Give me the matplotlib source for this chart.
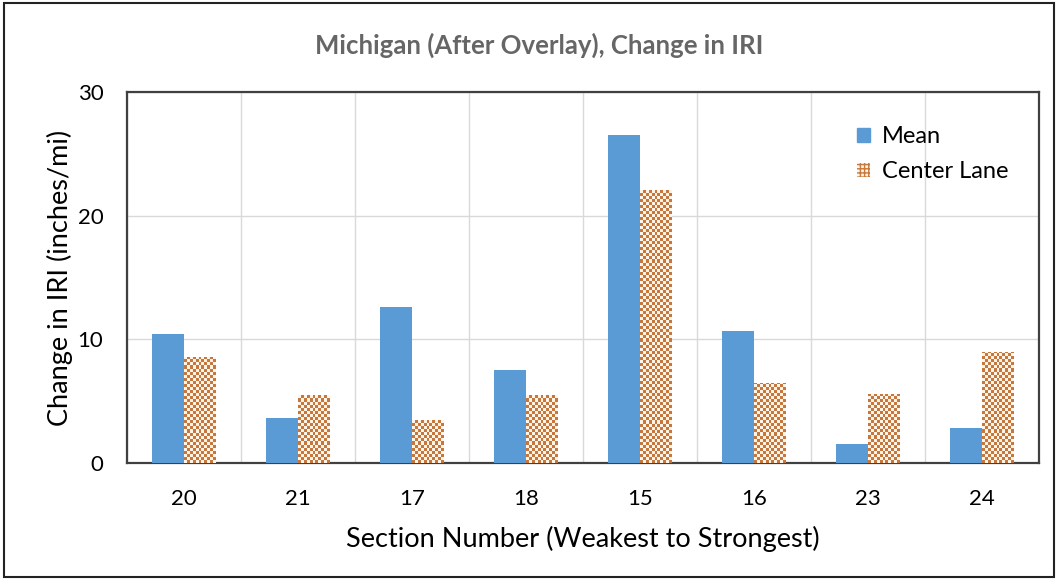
import matplotlib.pyplot as plt
import numpy as np
from matplotlib.patches import Rectangle

sections = ["20", "21", "17", "18", "15", "16", "23", "24"]
mean_iri = [10.4, 3.6, 12.6, 7.5, 26.5, 10.7, 1.5, 2.8]
center_lane = [8.6, 5.5, 3.5, 5.5, 22.1, 6.5, 5.6, 9.0]

plt.rcParams["font.family"] = ["Lato", "DejaVu Sans"]

fig = plt.figure(figsize=(10.58, 5.8), dpi=100)
ax = fig.add_axes([127 / 1058, 117 / 580, 912 / 1058, 371 / 580])

x = np.arange(len(sections))
w = 0.28

ax.bar(x - w / 2, mean_iri, w, color="#5B9BD5", label="Mean", zorder=3)
bars = ax.bar(x + w / 2, center_lane, w, color="#E9B888", label="Center Lane",
              zorder=3)

# checkerboard fill for the center lane bars
cell_x = w / 11
cell_y = 0.245
for b in bars:
    bx, bw, bh = b.get_x(), b.get_width(), b.get_height()
    b.set_facecolor("none")
    nx = int(np.ceil(bw / cell_x))
    ny = int(np.ceil(bh / cell_y)) + 1
    ii, jj = np.indices((ny, nx))
    checker = (ii + jj) % 2
    rgb = np.where(checker[..., None] == 1,
                   np.array([0.78, 0.47, 0.24]),
                   np.array([1.0, 0.96, 0.90]))
    im = ax.imshow(rgb[::-1], extent=(bx, bx + nx * cell_x, 0, ny * cell_y),
                   origin="lower", interpolation="nearest", aspect="auto",
                   zorder=3)
    im.set_clip_path(Rectangle((bx, 0), bw, bh, transform=ax.transData))

ax.set_xlim(-0.5, len(sections) - 0.5)
ax.set_ylim(0, 30)
ax.set_yticks([0, 10, 20, 30])
ax.set_xticks(x)
ax.set_xticklabels(sections)
ax.set_xticks(np.arange(len(sections) + 1) - 0.5, minor=True)
ax.tick_params(axis="both", which="both", length=0, labelsize=16)
ax.tick_params(axis="x", pad=19)
ax.tick_params(axis="y", pad=17)
ax.grid(axis="y", color="#D9D9D9", linewidth=1, zorder=0)
ax.grid(axis="x", which="minor", color="#D9D9D9", linewidth=1, zorder=0)
for s in ax.spines.values():
    s.set_color("#404040")
    s.set_linewidth(1.6)

ax.set_xlabel("Section Number (Weakest to Strongest)", fontsize=19.5,
              labelpad=12)
ax.set_ylabel("Change in IRI (inches/mi)", fontsize=19.5, labelpad=3)
fig.text(0.51, 0.922, "Michigan (After Overlay), Change in IRI", ha="center",
         va="center", fontsize=18.5, fontweight="bold", color="#666666")

leg_handles = [Rectangle((0, 0), 1, 1, color="#5B9BD5"),
               Rectangle((0, 0), 1, 1, facecolor="#FDF3E6",
                         edgecolor="#C77A3D", hatch="++++", linewidth=0)]
ax.legend(leg_handles, ["Mean", "Center Lane"], loc="upper right",
          bbox_to_anchor=(0.99, 0.965), frameon=False, fontsize=17,
          handlelength=0.55, handleheight=0.55, handletextpad=0.5,
          labelspacing=0.6)

fig.patches.append(Rectangle((0.004, 0.006), 0.992, 0.988, fill=False,
                             edgecolor="#222222", linewidth=1.5,
                             transform=fig.transFigure))

fig.savefig("out.png", dpi=100)
